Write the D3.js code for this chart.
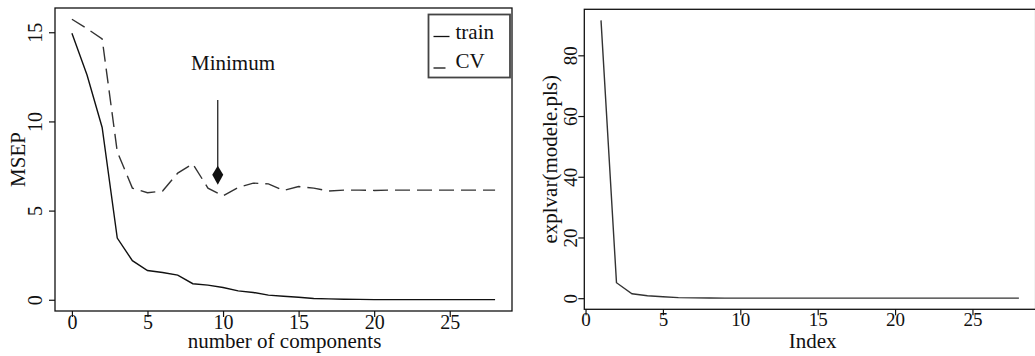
<!DOCTYPE html>
<html>
<head>
<meta charset="utf-8">
<script src="https://cdn.jsdelivr.net/npm/d3@7"></script>
<style>
  body { margin: 0; background: #fff; }
  svg { display: block; }
  text { font-family: "Liberation Serif", "DejaVu Serif", serif; fill: #111; }
  .box { fill: none; stroke: #111; stroke-width: 1.3; }
  .tick line { stroke: #111; stroke-width: 1.2; }
</style>
</head>
<body>
<svg id="chart" width="1035" height="356"></svg>
<script>
// left panel: MSEP vs number of components
const components = d3.range(0, 29);
const trainMSEP = [14.95, 12.6, 9.66, 3.46, 2.19, 1.64, 1.53, 1.38, 0.9, 0.82, 0.69, 0.5, 0.41, 0.26, 0.2, 0.14, 0.07, 0.05, 0.03, 0.02, 0.01, 0.01, 0.01, 0.01, 0.01, 0.01, 0.01, 0.01, 0.01];
const cvMSEP = [15.73, 15.2, 14.63, 8.3, 6.26, 6.0, 6.1, 7.1, 7.62, 6.26, 5.83, 6.3, 6.54, 6.5, 6.13, 6.35, 6.26, 6.1, 6.15, 6.15, 6.13, 6.15, 6.15, 6.15, 6.15, 6.15, 6.15, 6.15, 6.15];
const leftXTicks = [0, 5, 10, 15, 20, 25];
const leftYTicks = [0, 5, 10, 15];
const legendLabels = ['train', 'CV'];
const minArrow = { x: 9.65, top: 11.2, bottom: 6.45, label: 'Minimum', labelX: 10.66, labelY: 12.9 };

// right panel: explained variance by index
const index = d3.range(1, 29);
const explvar = [91.5, 5.1, 1.45, 0.8, 0.45, 0.2, 0.1, 0.05, 0.03, 0.02, 0.02, 0.01, 0.01, 0.01, 0.01, 0.01, 0.01, 0.01, 0.01, 0.01, 0.01, 0.01, 0.01, 0.01, 0.01, 0.01, 0.01, 0.01];
const rightXTicks = [0, 5, 10, 15, 20, 25];
const rightYTicks = [0, 20, 40, 60, 80];

const svg = d3.select('#chart');

function panel(o) {
  const x = d3.scaleLinear().domain(o.xDomain).range([o.left, o.right]);
  const y = d3.scaleLinear().domain(o.yDomain).range([o.bottom, o.top]);
  const g = svg.append('g');

  // x axis
  const gx = g.append('g')
    .attr('transform', `translate(0,${o.bottom})`)
    .call(d3.axisBottom(x).tickValues(o.xTicks).tickSize(6).tickFormat(d3.format('d')));
  gx.select('.domain').remove();
  gx.selectAll('text').attr('y', o.xLabOff).attr('dy', 0)
    .style('font-size', o.tickFont + 'px').attr('fill', '#111');

  // y axis, labels rotated like R's default
  const gy = g.append('g')
    .attr('transform', `translate(${o.left},0)`)
    .call(d3.axisLeft(y).tickValues(o.yTicks).tickSize(6).tickFormat(d3.format('d')));
  gy.select('.domain').remove();
  gy.selectAll('text')
    .attr('transform', 'rotate(-90)')
    .attr('x', 0).attr('y', -o.yLabOff).attr('dy', 0)
    .attr('text-anchor', 'middle')
    .style('font-size', o.tickFont + 'px').attr('fill', '#111');

  g.append('rect').attr('class', 'box')
    .attr('x', o.left).attr('y', o.top)
    .attr('width', o.right - o.left).attr('height', o.bottom - o.top);

  g.append('text')
    .attr('x', o.xTitleX).attr('y', 348)
    .attr('text-anchor', 'middle').style('font-size', '21px')
    .text(o.xTitle);
  g.append('text')
    .attr('transform', `translate(${o.yTitleX},${(o.top + o.bottom) / 2}) rotate(-90)`)
    .attr('text-anchor', 'middle').style('font-size', '21px')
    .text(o.yTitle);

  return { g, x, y };
}

// ---- left
const L = panel({
  left: 55, right: 512, top: 8, bottom: 311,
  xDomain: [-1.12, 29.12], yDomain: [-0.63, 16.36],
  xTicks: leftXTicks, yTicks: leftYTicks,
  xLabOff: 18, yLabOff: 13.3, tickFont: 20,
  xTitle: 'number of components', xTitleX: 284.5, yTitle: 'MSEP', yTitleX: 25
});

const lineL = d3.line().x((d, i) => L.x(components[i])).y(d => L.y(d));
L.g.append('path').datum(trainMSEP)
  .attr('d', lineL).attr('fill', 'none').attr('stroke', '#111').attr('stroke-width', 1.4);
L.g.append('path').datum(cvMSEP)
  .attr('d', lineL).attr('fill', 'none').attr('stroke', '#333').attr('stroke-width', 1.4)
  .attr('stroke-dasharray', '15,7');

// arrow to the minimum
const ax = L.x(minArrow.x), at = L.y(minArrow.top), ab = L.y(minArrow.bottom);
L.g.append('line').attr('x1', ax).attr('x2', ax).attr('y1', at).attr('y2', ab - 12)
  .attr('stroke', '#111').attr('stroke-width', 1.2);
L.g.append('path')
  .attr('d', `M${ax},${ab - 19} L${ax + 5.5},${ab - 10} L${ax},${ab} L${ax - 5.5},${ab - 10} Z`)
  .attr('fill', '#111');
L.g.append('text')
  .attr('x', L.x(minArrow.labelX)).attr('y', L.y(minArrow.labelY))
  .attr('text-anchor', 'middle').style('font-size', '21px')
  .text(minArrow.label);

// legend
const leg = L.g.append('g').attr('transform', 'translate(428.5,14.5)');
leg.append('rect').attr('width', 81.5).attr('height', 63)
  .attr('fill', '#fff').attr('stroke', '#444').attr('stroke-width', 1.8);
leg.selectAll('g.item').data(legendLabels).join('g')
  .attr('class', 'item')
  .attr('transform', (d, i) => `translate(0,${22 + i * 31.5})`)
  .each(function(d, i) {
    const it = d3.select(this);
    it.append('line').attr('x1', 5).attr('x2', i ? 17 : 21).attr('y1', 0).attr('y2', 0)
      .attr('stroke', '#111').attr('stroke-width', 1.3);
    it.append('text').attr('x', 27).attr('y', i ? 0 : 2.5)
      .style('font-size', '21px').text(d);
  });

// ---- right (box runs past the right edge of the picture)
const R = panel({
  left: 584.3, right: 1035.6, top: 9.3, bottom: 309.3,
  xDomain: [-0.08, 29.08], yDomain: [-3.66, 95.16],
  xTicks: rightXTicks, yTicks: rightYTicks,
  xLabOff: 17, yLabOff: 7.8, tickFont: 19,
  xTitle: 'Index', xTitleX: 812.7, yTitle: 'explvar(modele.pls)', yTitleX: 557
});

const lineR = d3.line().x((d, i) => R.x(index[i])).y(d => R.y(d));
R.g.append('path').datum(explvar)
  .attr('d', lineR).attr('fill', 'none').attr('stroke', '#333').attr('stroke-width', 1.4);
</script>
</body>
</html>
